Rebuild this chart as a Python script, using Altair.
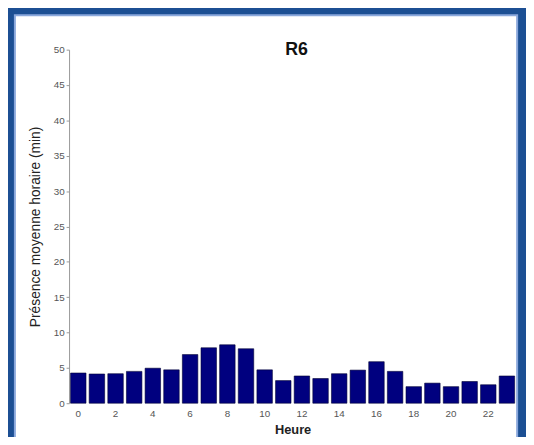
import altair as alt
import pandas as pd

hours = list(range(24))
presence = [4.27, 4.13, 4.17, 4.5, 4.95, 4.72, 6.88, 7.84, 8.26, 7.7, 4.72, 3.2,
            3.85, 3.49, 4.17, 4.68, 5.87, 4.5, 2.34, 2.84, 2.34, 3.07, 2.61, 3.85]
y_ticks = list(range(0, 51, 5))
title_text = "R6"

df = pd.DataFrame({"hour": hours, "presence": presence})

FONT = "Liberation Sans"

one = pd.DataFrame({"a": [0]})

panel = alt.Chart(one).mark_rect(
    fill="white", stroke="#8aa8dc", strokeWidth=2, clip=False
).encode(
    x=alt.value(-55), x2=alt.value(455),
    y=alt.value(-35), y2=alt.value(400),
)

title = alt.Chart(one).mark_text(
    text=title_text, font=FONT, fontSize=18, fontWeight="bold", color="#111111",
    align="center", baseline="middle"
).encode(x=alt.value(231), y=alt.value(0))

bars = alt.Chart(df).mark_bar(color="#00007F", stroke="#000033", strokeWidth=0.6).encode(
    x=alt.X("hour:O",
            scale=alt.Scale(paddingInner=0.17, paddingOuter=0.08),
            axis=alt.Axis(title="Heure",
                          labelExpr="datum.value % 2 == 0 ? datum.label : ''",
                          labelAngle=0, ticks=False, domain=False, zindex=1,
                          labelPadding=5, labelColor="#555555", labelFontSize=10,
                          titleFontSize=13, titleFontWeight="bold", titleColor="#222222",
                          titlePadding=6, labelFont=FONT, titleFont=FONT)),
    y=alt.Y("presence:Q",
            scale=alt.Scale(domain=[0, 50], nice=False),
            axis=alt.Axis(title="Présence moyenne horaire (min)", values=y_ticks,
                          grid=False, tickSize=3, tickColor="#999999", zindex=1,
                          domainColor="#999999", labelColor="#555555", labelFontSize=10,
                          labelPadding=2, titleFontSize=14, titleColor="#222222",
                          titleFontWeight="normal", titlePadding=11,
                          labelFont=FONT, titleFont=FONT)),
)

chart = alt.layer(panel, bars, title).properties(
    width=454, height=359,
    background="#1c4f93",
    padding={"left": 62, "top": 39, "right": 10, "bottom": 31},
    autosize=alt.AutoSizeParams(type="none"),
).configure_view(stroke=None)

chart.save("out.html", embed_options={"renderer": "svg", "actions": False})
